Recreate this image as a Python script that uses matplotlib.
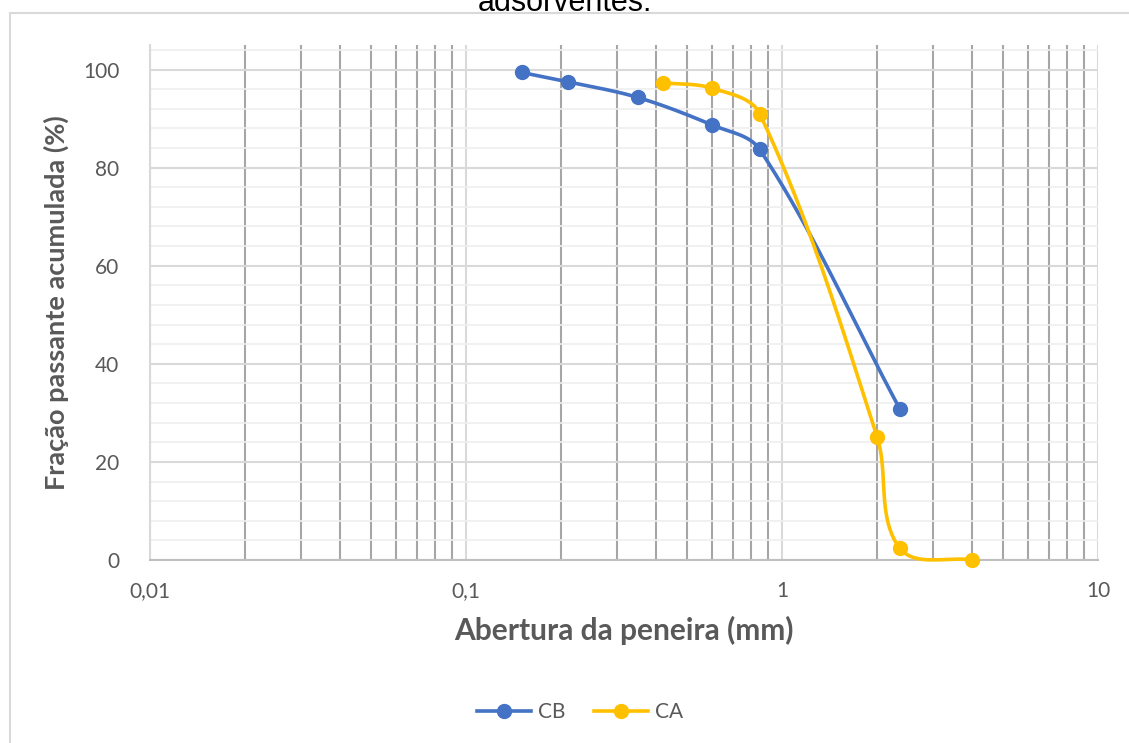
import numpy as np
import matplotlib.pyplot as plt
from matplotlib.patches import Rectangle
from matplotlib.ticker import FixedLocator, FuncFormatter, MultipleLocator

plt.rcParams['font.family'] = ['Lato', 'DejaVu Sans']

# dados
cb_x = [0.15, 0.21, 0.35, 0.60, 0.85, 2.36]
cb_y = [99.4, 97.5, 94.3, 88.7, 83.7, 30.8]
ca_x = [0.42, 0.60, 0.85, 2.00, 2.36, 4.00]
ca_y = [97.3, 96.2, 91.0, 25.1, 2.4, 0.0]

x_ticks = [0.01, 0.1, 1, 10]
x_labels = ['0,01', '0,1', '1', '10']
y_ticks = [0, 20, 40, 60, 80, 100]

BLUE = '#4472C4'
GOLD = '#FFC000'
TXT = '#595959'


def smooth_display(ax, xs, ys, n=40):
    # linha suavizada (Bezier) calculada em pixels, sem laços entre pontos próximos
    p = ax.transData.transform(np.column_stack([xs, ys]))
    k = len(p)
    tang = []
    for i in range(k):
        a = p[max(i - 1, 0)]
        b = p[min(i + 1, k - 1)]
        v = b - a
        tang.append(v / np.hypot(*v))
    t = np.linspace(0, 1, n)[:, None]
    out = []
    for i in range(k - 1):
        p1, p2 = p[i], p[i + 1]
        d = np.hypot(*(p2 - p1)) / 3
        c1 = p1 + tang[i] * d
        c2 = p2 - tang[i + 1] * d
        seg = (1 - t) ** 3 * p1 + 3 * (1 - t) ** 2 * t * c1 + 3 * (1 - t) * t ** 2 * c2 + t ** 3 * p2
        out.append(seg if i == 0 else seg[1:])
    d = ax.transData.inverted().transform(np.vstack(out))
    return d[:, 0], d[:, 1]


fig = plt.figure(figsize=(11.29, 7.43), dpi=100)
fig.patches.append(Rectangle((10 / 1129, -0.1), 1.2, 0.1 + 1 - 13 / 743,
                             transform=fig.transFigure, fill=False,
                             edgecolor='#d9d9d9', linewidth=1.5))
fig.text(0.5, 1 - 11 / 743, 'adsorventes.', ha='center', va='baseline',
         fontsize=22, family=['Liberation Sans', 'DejaVu Sans'], color='black')

ax = fig.add_axes([150 / 1129, 1 - 560 / 743, (1098 - 150) / 1129, (560 - 45) / 743])
ax.set_xscale('log')
ax.set_xlim(0.01, 10)
ax.set_ylim(0, 105)

ax.xaxis.set_major_locator(FixedLocator(x_ticks))
ax.xaxis.set_major_formatter(FuncFormatter(lambda v, p: x_labels[x_ticks.index(v)] if v in x_ticks else ''))
minor = [m * d for d in [0.01, 0.1, 1] for m in range(2, 10)]
ax.xaxis.set_minor_locator(FixedLocator(minor))
ax.xaxis.set_minor_formatter(FuncFormatter(lambda v, p: ''))
ax.yaxis.set_major_locator(FixedLocator(y_ticks))
ax.yaxis.set_minor_locator(MultipleLocator(4))

ax.grid(which='major', axis='x', color='#d9d9d9', linewidth=1.5)
ax.grid(which='minor', axis='x', color='#a6a6a6', linewidth=1.5)
ax.grid(which='major', axis='y', color='#d9d9d9', linewidth=1.5)
ax.grid(which='minor', axis='y', color='#efefef', linewidth=1.2)
ax.set_axisbelow(True)

for s in ['top', 'right']:
    ax.spines[s].set_visible(False)
ax.spines['left'].set_color('#d9d9d9')
ax.spines['bottom'].set_color('#bfbfbf')
ax.spines['left'].set_linewidth(1.5)
ax.spines['bottom'].set_linewidth(1.5)
ax.tick_params(which='both', length=0, labelsize=15, colors=TXT)
ax.tick_params(axis='x', pad=15)
ax.tick_params(axis='y', pad=22)

for xs, ys, c, lab in [(cb_x, cb_y, BLUE, 'CB'), (ca_x, ca_y, GOLD, 'CA')]:
    sx, sy = smooth_display(ax, xs, ys)
    ax.plot(sx, sy, color=c, linewidth=2.6, solid_capstyle='round', zorder=3, clip_on=False)
    ax.plot(xs, ys, 'o', color=c, markersize=10, zorder=4, clip_on=False)
    ax.plot([], [], '-o', color=c, linewidth=2.6, markersize=10, label=lab)

ax.set_xlabel('Abertura da peneira (mm)', fontsize=21.5, fontweight='bold', color=TXT, labelpad=11)
ax.set_ylabel('Fração passante acumulada (%)', fontsize=19.5, fontweight='bold', color=TXT, labelpad=10)

fig.legend(loc='center', bbox_to_anchor=(580 / 1129, 1 - 712 / 743), ncol=2, frameon=False,
           fontsize=15, labelcolor=TXT, handlelength=2.6, columnspacing=1.4, handletextpad=0.3)

fig.savefig('out.png', dpi=100)
